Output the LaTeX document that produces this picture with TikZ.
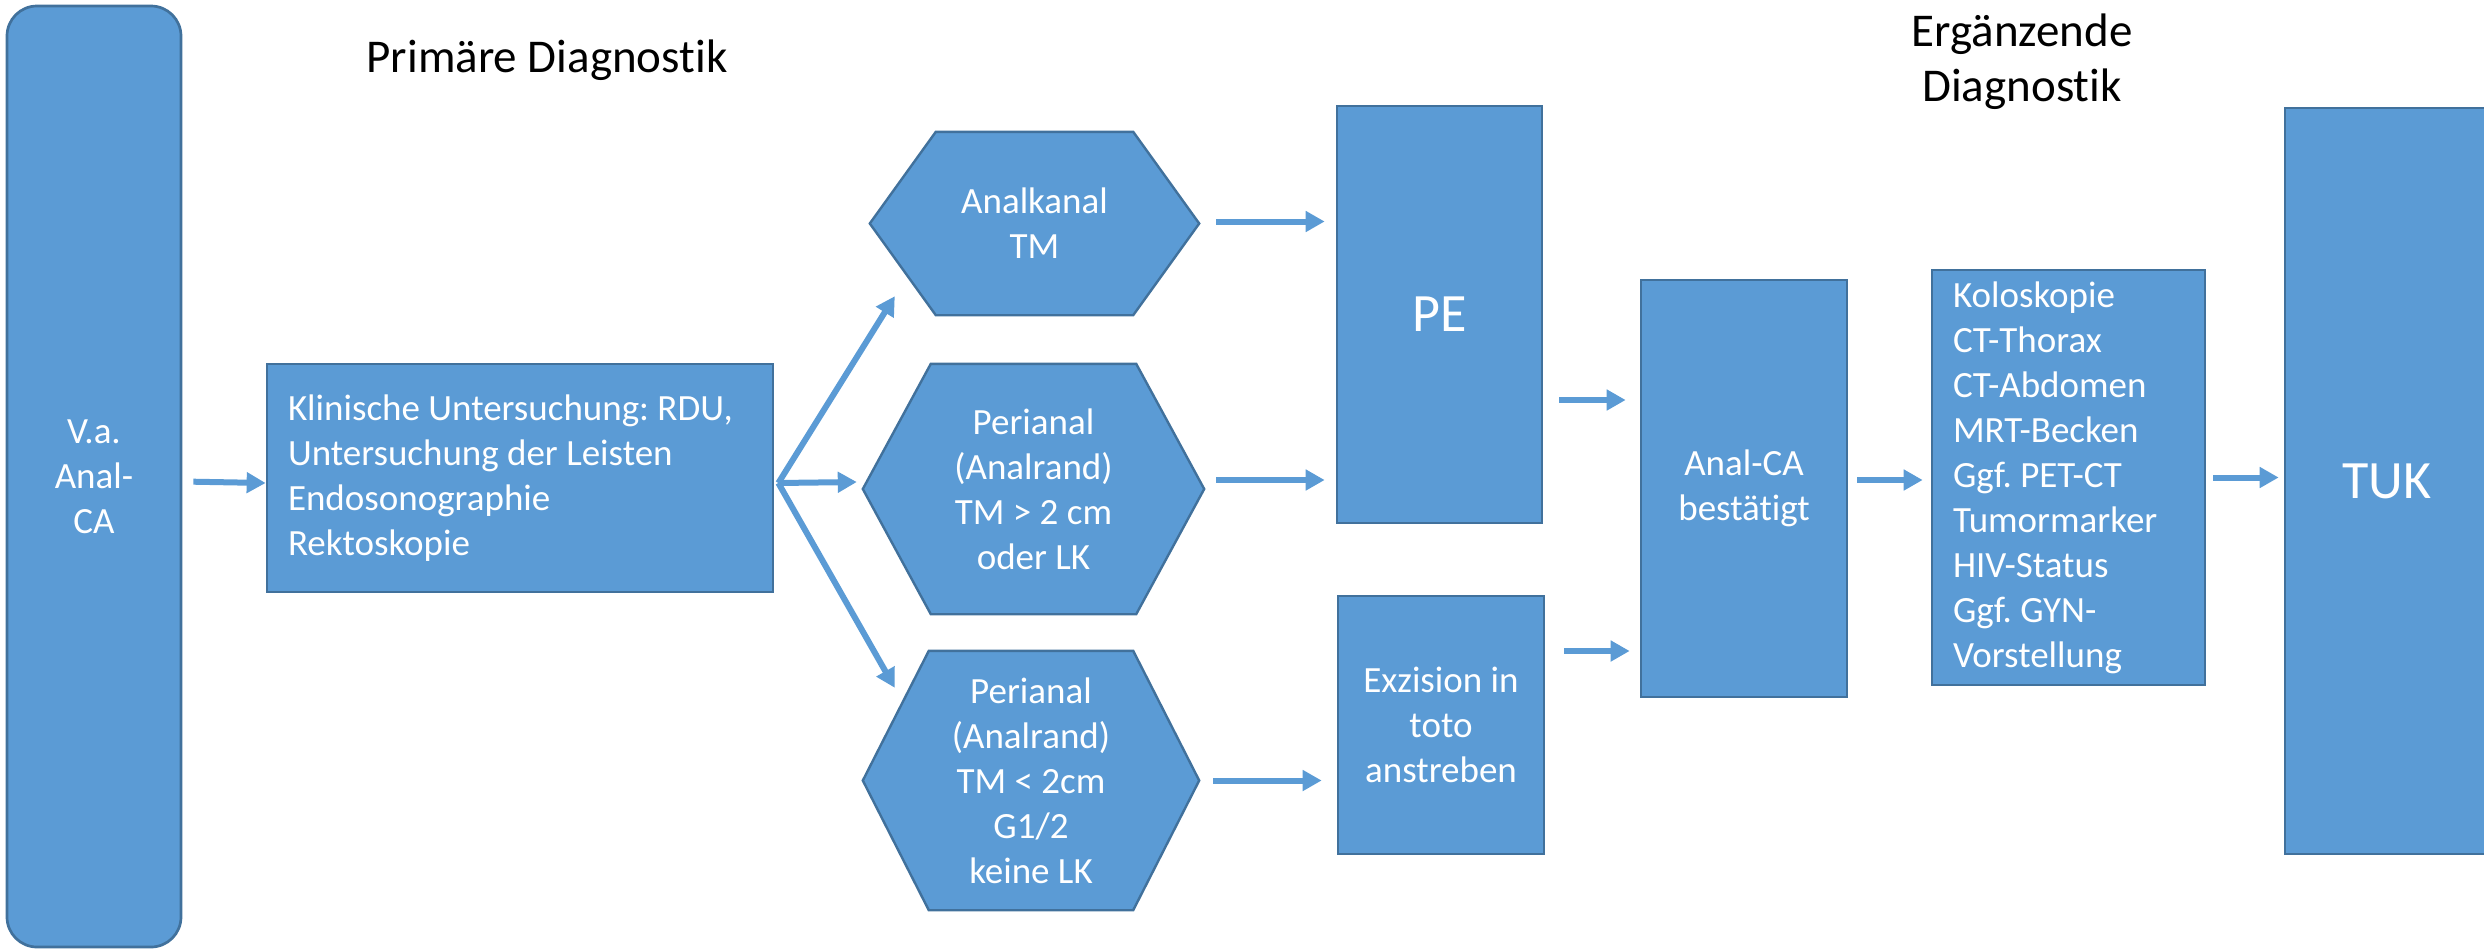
\documentclass[tikz,border=0pt]{standalone}
\usepackage{fontspec}
\setmainfont{Carlito}[Ligatures=NoCommon]
\usetikzlibrary{arrows.meta,calc,backgrounds}
\definecolor{fillblue}{HTML}{5B9BD5}
\definecolor{edgeblue}{HTML}{41719C}
\frenchspacing
\begin{document}
\begin{tikzpicture}[x=1pt,y=-1pt,
  box/.style={draw=edgeblue, fill=fillblue, line width=2.7pt, text=white, inner sep=0pt,
    font=\fontsize{37}{45}\selectfont, align=center},
  bigbox/.style={box, font=\fontsize{54}{60}\selectfont},
  hexbox/.style={draw=none, inner sep=0pt, text=white, font=\fontsize{37}{45}\selectfont, align=center},
  hexshape/.style={draw=edgeblue, fill=fillblue, line width=2.4pt, line join=miter},
  arr/.style={draw=fillblue, line width=6pt, -{Triangle[length=19pt,width=20pt]}},
  title/.style={font=\fontsize{47}{55}\selectfont, text=black, align=center, inner sep=0pt}
]
\useasboundingbox (0,0) rectangle (2484,951);

% titles
\node[title, anchor=base] (t1) at (547,72) {Primäre Diagnostik};
\node[title, anchor=base] (t2) at (2022,101) {Ergänzende\\Diagnostik};

% boxes
\node[box, rounded corners=30pt, minimum width=174pt, minimum height=941pt] (va) at (94,476.5) {V.a.\\Anal-\\CA};
\node[box, minimum width=506pt, minimum height=228pt, text width=464pt, align=flush left] (kl) at (520,478)
  {Klinische Untersuchung: RDU,\\Untersuchung der Leisten\\Endosonographie\\Rektoskopie};

\node[hexbox, minimum width=329pt, minimum height=183pt] (h1) at (1034.5,223.5) {Analkanal\\TM};
\node[hexbox, minimum width=341pt, minimum height=250pt] (h2) at (1033.5,489) {Perianal\\(Analrand)\\TM > 2 cm\\oder LK};
\node[hexbox, minimum width=336pt, minimum height=259pt] (h3) at (1031,780.5) {Perianal\\(Analrand)\\TM < 2cm\\G1/2\\keine LK};

\begin{scope}[on background layer]
\foreach \h/\d in {h1/66,h2/68,h3/66} {
  \draw[hexshape] (\h.west) -- ([xshift=\d pt]\h.north west) -- ([xshift=-\d pt]\h.north east)
    -- (\h.east) -- ([xshift=-\d pt]\h.south east) -- ([xshift=\d pt]\h.south west) -- cycle;
}
\end{scope}

\node[bigbox, minimum width=205pt, minimum height=417pt] (pe) at (1439.5,314.5) {PE};
\node[box, minimum width=206pt, minimum height=258pt] (ex) at (1441,725) {Exzision in\\toto\\anstreben};
\node[box, minimum width=206pt, minimum height=417pt] (ac) at (1744,488.5) {Anal-CA\\bestätigt};
\node[box, minimum width=273pt, minimum height=415pt, text width=231pt, align=flush left] (ko) at (2068.5,477.5)
  {Koloskopie\\CT-Thorax\\CT-Abdomen\\MRT-Becken\\Ggf. PET-CT\\Tumormarker\\HIV-Status\\Ggf. GYN-\\Vorstellung};
\node[bigbox, minimum width=204pt, minimum height=746pt] (tuk) at (2387,481) {TUK};

% connectors
\draw[arr, shorten <=11pt] ([yshift=-5pt]va.east) -- ([yshift=-5pt]kl.west);
\coordinate (br) at ($(kl.east)+(4,5)$);
\draw[arr] (br) -- ($(h1.south west)+(25,-19)$);
\draw[arr] (br) -- ([xshift=-6pt,yshift=7pt]h2.west);
\draw[arr] (br) -- ($(h3.north west)+(32,37)$);

\draw[arr, shorten <=17pt, shorten >=11pt] ([yshift=2pt]h1.east) -- ([yshift=2pt]h1.east -| pe.west);
\draw[arr, shorten <=12pt, shorten >=11pt] ([yshift=9pt]h2.east) -- ([yshift=9pt]h2.east -| pe.west);
\draw[arr, shorten <=14pt, shorten >=15pt] (h3.east) -- (h3.east -| ex.west);
\draw[arr, shorten <=16pt, shorten >=14pt] ([yshift=-85.5pt]pe.east) -- ([yshift=-85.5pt]pe.east -| ac.west);
\draw[arr, shorten <=19pt, shorten >=10pt] ([yshift=74pt]ex.east) -- ([yshift=74pt]ex.east -| ac.west);
\draw[arr, shorten <=9pt, shorten >=8pt] ([yshift=8.5pt]ac.east) -- ([yshift=8.5pt]ac.east -| ko.west);
\draw[arr, shorten <=7pt, shorten >=5pt] (ko.east) -- (ko.east -| tuk.west);
\end{tikzpicture}
\end{document}
